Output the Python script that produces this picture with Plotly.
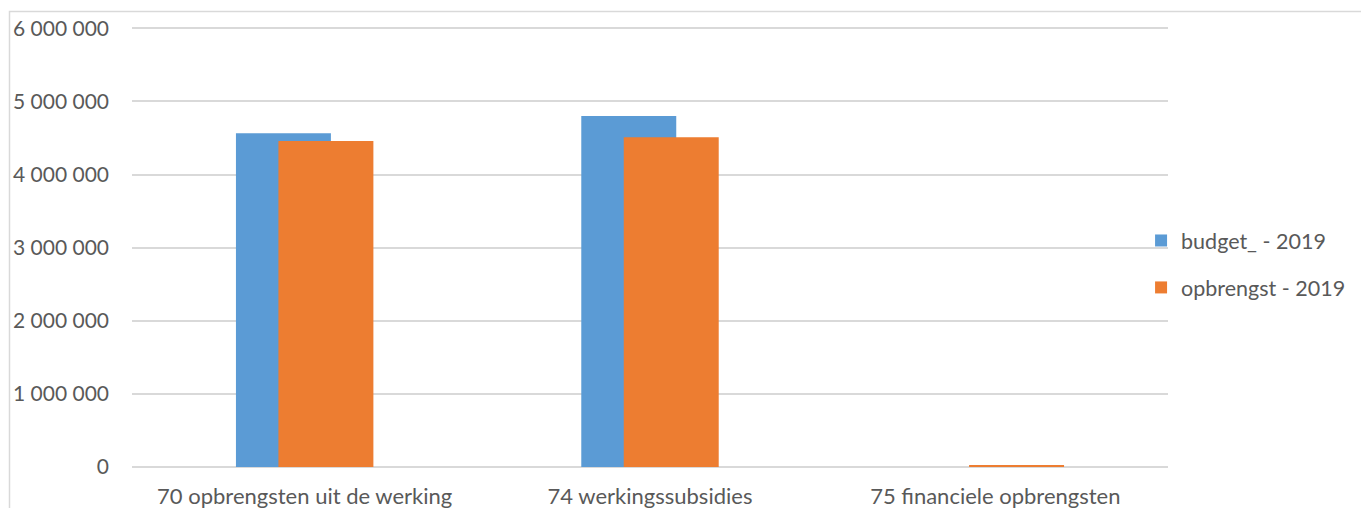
import plotly.graph_objects as go

categories = ["70 opbrengsten uit de werking", "74 werkingssubsidies", "75 financiele opbrengsten"]
budget_2019 = [4564000, 4801000, 0]
opbrengst_2019 = [4459000, 4510000, 15000]
series_names = ["budget_ - 2019", "opbrengst - 2019"]
y_tick_values = [0, 1000000, 2000000, 3000000, 4000000, 5000000, 6000000]
y_tick_labels = ["0", "1 000 000", "2 000 000", "3 000 000", "4 000 000", "5 000 000", "6 000 000"]

FONT = "Lato"
TEXT = "#595959"
GRID = "#d9d9d9"

fig = go.Figure()
fig.add_trace(go.Bar(
    x=categories, y=budget_2019, name=series_names[0],
    marker=dict(color="#5B9BD5", line=dict(width=0)),
    width=0.275, offset=-0.199, legendgroup="a",
))
fig.add_trace(go.Bar(
    x=categories, y=opbrengst_2019, name=series_names[1],
    marker=dict(color="#ED7D31", line=dict(width=0)),
    width=0.275, offset=-0.076, legendgroup="b",
))

PLOT_H = 508 - 21 - 41

fig.update_layout(
    width=1361, height=508,
    margin=dict(l=132, r=193, t=21, b=41, pad=0, autoexpand=False),
    paper_bgcolor="white", plot_bgcolor="white",
    barmode="overlay",
    font=dict(family=FONT, size=21, color=TEXT),
    legend=dict(
        x=0.974, xanchor="left", y=(467 - 264) / PLOT_H, yanchor="middle",
        font=dict(family=FONT, size=21.5, color=TEXT),
        traceorder="grouped", tracegroupgap=16,
        itemwidth=30, bgcolor="rgba(0,0,0,0)",
    ),
    xaxis=dict(
        showgrid=False, showline=False, zeroline=False, ticks="",
        tickfont=dict(family=FONT, size=22, color=TEXT),
        ticklabelstandoff=14, fixedrange=True, automargin=False,
    ),
    yaxis=dict(
        range=[0, 6100000], tickvals=y_tick_values, ticktext=y_tick_labels,
        showgrid=True, gridcolor=GRID, gridwidth=1.5,
        zeroline=True, zerolinecolor=GRID, zerolinewidth=1.5,
        showline=False, ticks="",
        tickfont=dict(family=FONT, size=21, color=TEXT),
        ticklabelstandoff=22, fixedrange=True, automargin=False,
    ),
    showlegend=True,
)

fig.add_shape(
    type="rect", xref="paper", yref="paper",
    x0=(9.5 - 132) / 1036, x1=2, y0=-1, y1=(467 - 11.5) / PLOT_H,
    line=dict(color=GRID, width=1.5), fillcolor="rgba(0,0,0,0)", layer="below",
)

fig.write_html("out.html", config={"displayModeBar": False})
